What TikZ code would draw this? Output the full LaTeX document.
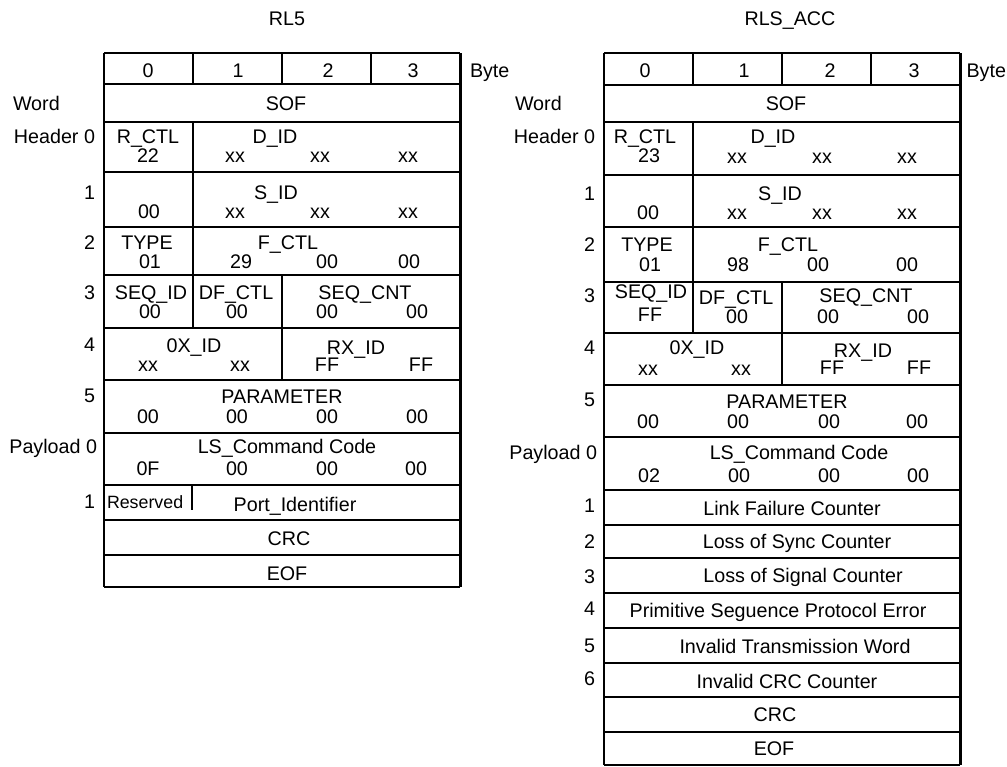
\documentclass[tikz,border=0pt]{standalone}
\usepackage{fontspec}
\setmainfont{Liberation Sans}
\newcounter{tn}
\newcommand\T[3][base]{\stepcounter{tn}\node[txt,anchor=#1] (t\arabic{tn}) at (#2) {#3};}
\begin{document}
\begin{tikzpicture}[x=0.5pt,y=-0.5pt,
  txt/.style={inner sep=0pt,outer sep=0pt,font=\fontsize{9.85}{11}\selectfont},
  small/.style={font=\fontsize{8.9}{10}\selectfont},
  ln/.style={line width=1pt},
  edgeln/.style={line width=1.5pt}]
\useasboundingbox (0,0) rectangle (1007,766);

% ---------------- left table frame
\foreach \y in {53,84,122,172,227,275,328,380,433,485,520,555,587}
  \draw[ln] (104,\y) -- (460,\y);
\draw[ln] (104,53) -- (104,587);
\draw[edgeln] (460,53) -- (460,587);
\draw[ln] (193,53) -- (193,84);
\draw[ln] (282,53) -- (282,84);
\draw[ln] (371,53) -- (371,84);
\draw[ln] (193,122) -- (193,328);
\draw[ln] (282,275) -- (282,380);
\draw[ln] (192,485) -- (192,510);

% ---------------- right table frame
\foreach \y in {53,85,122,175,227,282,333,385,437,490,525,558,593,628,663,697,732,765}
  \draw[ln] (604,\y) -- (960,\y);
\draw[ln] (604,53) -- (604,765);
\draw[edgeln] (960,53) -- (960,765);
\draw[ln] (693,53) -- (693,85);
\draw[ln] (782,53) -- (782,85);
\draw[ln] (871,53) -- (871,85);
\draw[ln] (693,122) -- (693,333);
\draw[ln] (782,282) -- (782,385);

% ---------------- left table text
\T{287,25}{RL5}
\T{148,77}{0}\T{238,77}{1}\T{328,77}{2}\T{413,77}{3}
\T[base west]{470,77}{Byte}
\T[base west]{13,110}{Word}\T{286,110}{SOF}
\T[base east]{95,143}{Header 0}
\T{148,143}{R\_CTL}\T{275,143}{D\_ID}
\T{148,162}{22}\T{235,162}{xx}\T{320,162}{xx}\T{408,162}{xx}
\T[base east]{95,199}{1}
\T{276,199}{S\_ID}
\T{149,218}{00}\T{235,218}{xx}\T{320,218}{xx}\T{408,218}{xx}
\T[base east]{95,249}{2}
\T{147,249}{TYPE}\T{288,249}{F\_CTL}
\T{150,268}{01}\T{241,268}{29}\T{327,268}{00}\T{409,268}{00}
\T[base east]{95,299}{3}
\T{151,299}{SEQ\_ID}\T{236,299}{DF\_CTL}\T{365,299}{SEQ\_CNT}
\T{150,318}{00}\T{237,318}{00}\T{327,318}{00}\T{417,318}{00}
\T[base east]{95,351}{4}
\T{194,352}{0X\_ID}\T{356,354}{RX\_ID}
\T{148,371}{xx}\T{240,371}{xx}\T{327,371}{FF}\T{421,371}{FF}
\T[base east]{95,402}{5}
\T{282,403}{PARAMETER}
\T{148,423}{00}\T{237,423}{00}\T{327,423}{00}\T{417,423}{00}
\T[base east]{97,453}{Payload 0}
\T{287,453}{LS\_Command Code}
\T{148,475}{0F}\T{237,475}{00}\T{327,475}{00}\T{416,475}{00}
\T[base east]{95,508}{1}
\stepcounter{tn}\node[txt,small,anchor=base west] (t\arabic{tn}) at (107,508) {Reserved};
\T{295,511}{Port\_Identifier}
\T{289,545}{CRC}
\T{287,580}{EOF}

% ---------------- right table text
\T{790,25}{RLS\_ACC}
\T{645,77}{0}\T{744,77}{1}\T{830,77}{2}\T{914,77}{3}
\T[base east]{1006,77}{Byte}
\T[base west]{515,110}{Word}\T{786,110}{SOF}
\T[base east]{595,143}{Header 0}
\T{645,143}{R\_CTL}\T{773,143}{D\_ID}
\T{649,162}{23}\T{737,163}{xx}\T{822,163}{xx}\T{907,163}{xx}
\T[base east]{595,200}{1}
\T{780,200}{S\_ID}
\T{648,219}{00}\T{737,219}{xx}\T{822,219}{xx}\T{907,219}{xx}
\T[base east]{595,251}{2}
\T{647,251}{TYPE}\T{788,251}{F\_CTL}
\T{650,271}{01}\T{738,271}{98}\T{818,271}{00}\T{907,271}{00}
\T[base east]{595,302}{3}
\T{651,298}{SEQ\_ID}\T{736,304}{DF\_CTL}\T{866,302}{SEQ\_CNT}
\T{650,321}{FF}\T{737,323}{00}\T{828,323}{00}\T{918,323}{00}
\T[base east]{595,354}{4}
\T{697,354}{0X\_ID}\T{863,357}{RX\_ID}
\T{648,375}{xx}\T{741,375}{xx}\T{832,374}{FF}\T{919,374}{FF}
\T[base east]{595,406}{5}
\T{787,408}{PARAMETER}
\T{648,428}{00}\T{738,428}{00}\T{829,428}{00}\T{917,428}{00}
\T[base east]{597,459}{Payload 0}
\T{799,459}{LS\_Command Code}
\T{649,482}{02}\T{739,482}{00}\T{829,482}{00}\T{918,482}{00}
\T[base east]{595,512}{1}\T{792,515}{Link Failure Counter}
\T[base east]{595,548}{2}\T{797,548}{Loss of Sync Counter}
\T[base east]{595,583}{3}\T{803,582}{Loss of Signal Counter}
\T[base east]{595,615}{4}\T{778,617}{Primitive Seguence Protocol Error}
\T[base east]{595,652}{5}\T{795,653}{Invalid Transmission Word}
\T[base east]{595,685}{6}\T{787,688}{Invalid CRC Counter}
\T{775,721}{CRC}
\T{774,755}{EOF}
\end{tikzpicture}
\end{document}
